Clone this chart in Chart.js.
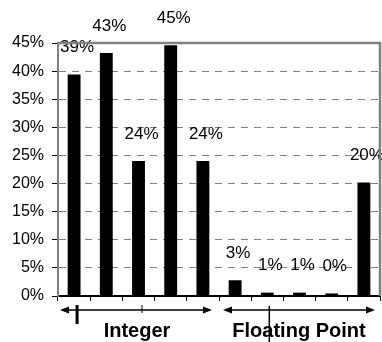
<!DOCTYPE html>
<html>
<head>
<meta charset="utf-8">
<title>Integer vs Floating Point</title>
<script src="https://cdn.jsdelivr.net/npm/chart.js@4.4.1/dist/chart.umd.min.js"></script>
<style>
  body { margin: 0; background: #fff; }
  canvas { display: block; }
</style>
</head>
<body>
<canvas id="myChart" width="382" height="342"></canvas>
<script>
// ====== DATOS ======
// Una barra por programa (5 enteros + 5 de punto flotante)
const categorias = ['i1', 'i2', 'i3', 'i4', 'i5', 'f1', 'f2', 'f3', 'f4', 'f5'];
const valores = [39.4, 43.2, 24.0, 44.6, 24.0, 2.8, 0.6, 0.6, 0.45, 20.2];
const ticksY = [0, 5, 10, 15, 20, 25, 30, 35, 40, 45];
// Grupos que se marcan con flechas debajo del eje
const grupos = ['Integer', 'Floating Point'];

const FUENTE = '"Liberation Sans", Arial, sans-serif';

// ====== ETIQUETAS SOBRE LAS BARRAS ======
const etiquetasPlugin = {
  id: 'etiquetas',
  afterDatasetsDraw(chart) {
    const ctx = chart.ctx;
    const meta = chart.getDatasetMeta(0);
    ctx.save();
    ctx.fillStyle = '#000';
    ctx.font = '17px ' + FUENTE;
    ctx.textAlign = 'center';
    ctx.textBaseline = 'middle';
    meta.data.forEach((bar, i) => {
      const txt = Math.round(valores[i]) + '%';
      ctx.fillText(txt, bar.x + 3, bar.y - 27);
    });
    ctx.restore();
  }
};

// ====== MARCO GRIS DEL AREA DEL GRAFICO ======
const marcoPlugin = {
  id: 'marco',
  afterDraw(chart) {
    const { ctx, chartArea: a } = chart;
    ctx.save();
    ctx.strokeStyle = '#808080';
    ctx.lineWidth = 2.5;
    ctx.beginPath();
    ctx.moveTo(a.left, a.top);
    ctx.lineTo(a.right, a.top);
    ctx.lineTo(a.right, a.bottom);
    ctx.stroke();
    ctx.restore();
  }
};

// ====== FLECHAS Y NOMBRES DE LOS GRUPOS ======
function flecha(ctx, x1, x2, y) {
  ctx.beginPath();
  ctx.moveTo(x1 + 6, y);
  ctx.lineTo(x2 - 6, y);
  ctx.stroke();
  // punta izquierda
  ctx.beginPath();
  ctx.moveTo(x1, y);
  ctx.lineTo(x1 + 9, y - 3.5);
  ctx.lineTo(x1 + 9, y + 3.5);
  ctx.closePath();
  ctx.fill();
  // punta derecha
  ctx.beginPath();
  ctx.moveTo(x2, y);
  ctx.lineTo(x2 - 9, y - 3.5);
  ctx.lineTo(x2 - 9, y + 3.5);
  ctx.closePath();
  ctx.fill();
}

const gruposPlugin = {
  id: 'grupos',
  afterDraw(chart) {
    const ctx = chart.ctx;
    const x = chart.scales.x;
    const paso = (x.right - x.left) / categorias.length;
    const y = x.top + 14;
    ctx.save();
    ctx.strokeStyle = '#000';
    ctx.fillStyle = '#000';
    ctx.lineWidth = 1.5;

    const intIzq = x.left + 2;
    const intDer = x.left + 5 * paso - 7;
    const flIzq = x.left + 5 * paso + 4;
    const flDer = x.right - 5;
    flecha(ctx, intIzq, intDer, y);
    flecha(ctx, flIzq, flDer, y);

    // marcas verticales sueltas
    ctx.lineWidth = 3;
    ctx.beginPath();
    ctx.moveTo(x.getPixelForValue(0) + 3, y - 5);
    ctx.lineTo(x.getPixelForValue(0) + 3, y + 14);
    ctx.stroke();
    ctx.lineWidth = 1;
    ctx.beginPath();
    ctx.moveTo(x.getPixelForValue(2) + 3.5, y - 5);
    ctx.lineTo(x.getPixelForValue(2) + 3.5, y + 3);
    ctx.stroke();
    ctx.lineWidth = 1.5;
    ctx.beginPath();
    ctx.moveTo(x.getPixelForValue(6) + 2, y - 4);
    ctx.lineTo(x.getPixelForValue(6) + 2, chart.height);
    ctx.stroke();

    // textos
    ctx.font = 'bold 20px ' + FUENTE;
    ctx.textAlign = 'center';
    ctx.textBaseline = 'alphabetic';
    ctx.fillText(grupos[0], (intIzq + intDer) / 2 + 1, x.top + 41);
    ctx.fillText(grupos[1], (flIzq + flDer) / 2, x.top + 41);
    ctx.restore();
  }
};

// ====== GRAFICO ======
const ctx = document.getElementById('myChart').getContext('2d');
new Chart(ctx, {
  type: 'bar',
  data: {
    labels: categorias,
    datasets: [{
      data: valores,
      backgroundColor: '#000',
      borderWidth: 0,
      barPercentage: 0.4,
      categoryPercentage: 1
    }]
  },
  options: {
    responsive: false,
    animation: false,
    layout: { padding: { top: 43, right: 2, left: 0, bottom: 0 } },
    plugins: {
      legend: { display: false },
      tooltip: { enabled: false }
    },
    scales: {
      x: {
        afterFit: (s) => { s.height = 46; },
        ticks: { display: false },
        grid: {
          offset: true,
          drawOnChartArea: false,
          tickLength: 5,
          tickColor: '#000',
          tickWidth: 1
        },
        border: { color: '#000', width: 2 }
      },
      y: {
        min: 0,
        max: 45,
        afterFit: (s) => { s.width = 58; },
        afterBuildTicks: (s) => { s.ticks = ticksY.map(v => ({ value: v })); },
        ticks: {
          color: '#000',
          padding: 8,
          font: { family: FUENTE, size: 16 },
          callback: (v) => v + '%'
        },
        grid: {
          color: '#808080',
          lineWidth: 1,
          tickLength: 6,
          tickColor: '#000',
          tickWidth: 1
        },
        border: { color: '#808080', width: 2, dash: [7, 6] }
      }
    }
  },
  plugins: [etiquetasPlugin, marcoPlugin, gruposPlugin]
});
</script>
</body>
</html>
